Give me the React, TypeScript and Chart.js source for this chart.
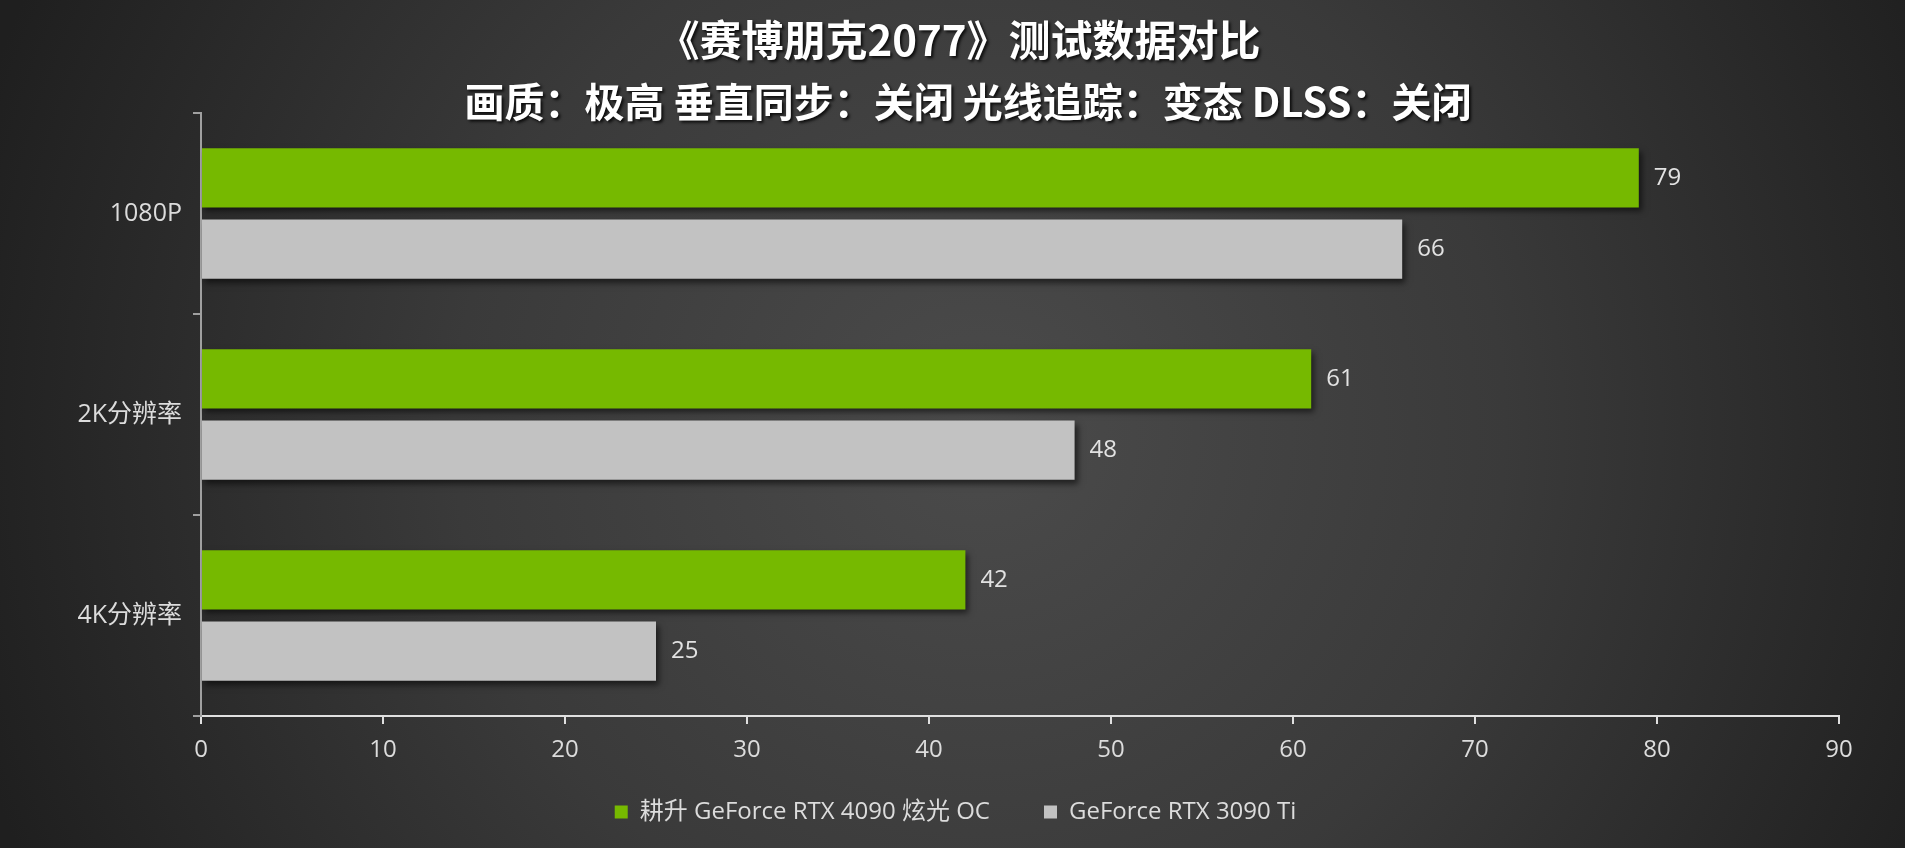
import React, { useEffect, useRef } from "react";
import { Chart, registerables } from "chart.js";

Chart.register(...registerables);

const titleLines = ["《赛博朋克2077》测试数据对比", "画质：极高 垂直同步：关闭 光线追踪：变态 DLSS：关闭"];
const categories = ["1080P", "2K分辨率", "4K分辨率"];
const seriesNames = ["耕升 GeForce RTX 4090 炫光 OC", "GeForce RTX 3090 Ti"];
const rtx4090 = [79, 61, 42];
const rtx3090ti = [66, 48, 25];
const xTicks = [0, 10, 20, 30, 40, 50, 60, 70, 80, 90];
const seriesColors = ["#76b900", "#c2c2c2"];

const FONT = "'Open Sans', 'Noto Sans CJK SC', sans-serif";

const bgPlugin = {
  id: "bg",
  beforeDraw(chart: any) {
    const { ctx, width, height } = chart;
    ctx.save();
    ctx.fillStyle = "#262626";
    ctx.fillRect(0, 0, width, height);
    const g = ctx.createRadialGradient(980, 430, 0, 980, 430, 1050);
    g.addColorStop(0, "#4b4b4b");
    g.addColorStop(0.5, "#3a3a3a");
    g.addColorStop(1, "#1f1f1f");
    ctx.fillStyle = g;
    ctx.fillRect(0, 0, width, height);
    ctx.restore();
  },
};

// let the x-axis tick labels extend below the (short) axis box without clipping
const unclipPlugin = {
  id: "unclipX",
  afterLayout(chart: any) {
    const x = chart.scales.x;
    if (x) x.bottom = x.bottom + 40;
  },
};

const titlePlugin = {
  id: "titles",
  afterDraw(chart: any) {
    const { ctx } = chart;
    ctx.save();
    ctx.textAlign = "center";
    ctx.textBaseline = "middle";
    ctx.shadowColor = "rgba(0,0,0,0.8)";
    ctx.shadowOffsetX = 2;
    ctx.shadowOffsetY = 2;
    ctx.shadowBlur = 3;
    ctx.fillStyle = "#ffffff";
    ctx.font = "bold 42px 'Noto Sans CJK SC', sans-serif";
    ctx.fillText(titleLines[0], 959, 40);
    ctx.font = "bold 40px 'Noto Sans CJK SC', sans-serif";
    ctx.fillText(titleLines[1], 968, 102);
    ctx.restore();
  },
};

const barPlugin = {
  id: "barShadowLabels",
  beforeDatasetsDraw(chart: any) {
    const { ctx } = chart;
    ctx.save();
    ctx.shadowColor = "rgba(0,0,0,0.55)";
    ctx.shadowOffsetX = 3;
    ctx.shadowOffsetY = 4;
    ctx.shadowBlur = 6;
  },
  afterDatasetsDraw(chart: any) {
    const { ctx } = chart;
    ctx.restore();
    ctx.save();
    ctx.font = `24px ${FONT}`;
    ctx.fillStyle = "#e2e2e2";
    ctx.textAlign = "left";
    ctx.textBaseline = "middle";
    chart.data.datasets.forEach((ds: any, di: number) => {
      const meta = chart.getDatasetMeta(di);
      meta.data.forEach((bar: any, i: number) => {
        ctx.fillText(String(ds.data[i]), bar.x + 15, bar.y);
      });
    });
    ctx.restore();
  },
};

export default function App() {
  const ref = useRef<HTMLCanvasElement | null>(null);
  useEffect(() => {
    document.body.style.margin = "0";
    const canvas = ref.current!;
    const chart = new Chart(canvas, {
      type: "bar",
      data: {
        labels: categories,
        datasets: [
          {
            label: seriesNames[0],
            data: rtx4090,
            backgroundColor: seriesColors[0],
            categoryPercentage: 0.71,
            barPercentage: 0.83,
          },
          {
            label: seriesNames[1],
            data: rtx3090ti,
            backgroundColor: seriesColors[1],
            categoryPercentage: 0.71,
            barPercentage: 0.83,
          },
        ],
      },
      options: {
        indexAxis: "y",
        responsive: false,
        animation: false,
        layout: { padding: { top: 113, right: 0, bottom: 14, left: 6 } },
        plugins: {
          title: { display: false },
          tooltip: { enabled: false },
          legend: {
            display: true,
            position: "bottom",
            labels: {
              color: "#dcdcdc",
              font: { family: FONT, size: 24 },
              boxWidth: 13,
              boxHeight: 13,
              padding: 54,
            },
          },
        },
        scales: {
          x: {
            min: 0,
            max: 90,
            afterBuildTicks(scale: any) {
              scale.ticks = xTicks.map((v) => ({ value: v }));
            },
            afterFit(scale: any) {
              scale.height = 30;
            },
            grid: {
              drawOnChartArea: false,
              drawTicks: true,
              tickLength: 8,
              color: "#e0e0e0",
              lineWidth: 2,
            },
            border: { color: "#e0e0e0", width: 2 },
            ticks: {
              color: "#dcdcdc",
              font: { family: FONT, size: 24 },
              padding: 12,
            },
          },
          y: {
            afterFit(scale: any) {
              scale.width = 195;
            },
            grid: {
              drawOnChartArea: false,
              drawTicks: true,
              tickLength: 8,
              color: "#a0a0a0",
              lineWidth: 2,
              offset: true,
            },
            border: { color: "#a0a0a0", width: 2 },
            ticks: {
              color: "#dcdcdc",
              font: { family: FONT, size: 25 },
              padding: 11,
            },
          },
          yRightSpace: {
            type: "category",
            labels: categories,
            position: "right",
            afterFit(scale: any) {
              scale.width = 66;
            },
            grid: { display: false },
            border: { display: false },
            ticks: { display: false },
          },
        },
      },
      plugins: [bgPlugin, unclipPlugin, barPlugin, titlePlugin],
    } as any);
    return () => chart.destroy();
  }, []);
  return (
    <div style={{ position: "absolute", left: 0, top: 0, width: 1905, height: 848 }}>
      <canvas ref={ref} width={1905} height={848} style={{ display: "block" }} />
    </div>
  );
}
